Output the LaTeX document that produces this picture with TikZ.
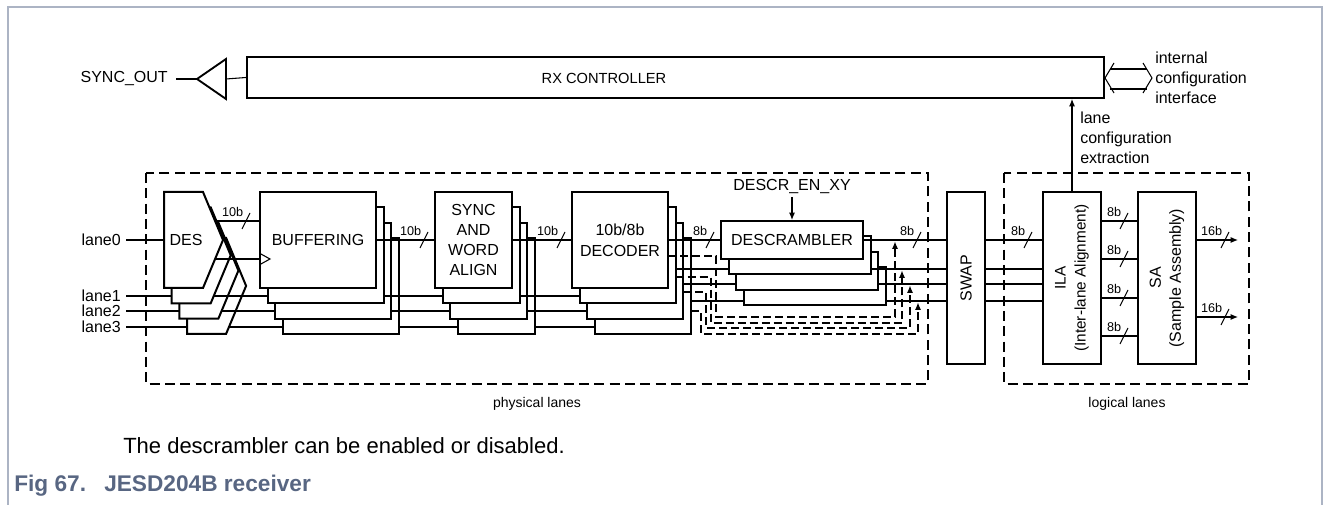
\documentclass[tikz,border=0pt]{standalone}
\usepackage{fontspec}
\setmainfont{Liberation Sans}
\usetikzlibrary{arrows.meta}
\definecolor{framecol}{RGB}{172,180,196}
\definecolor{capcol}{RGB}{88,102,130}
\newcommand\copystack[4]{%
  \foreach \k in {3,2,1}{\draw[blk] ({#1+7.7*\k},{#2+15.3*\k}) rectangle ({#3+7.7*\k},{#4+15.3*\k});}}
\newcommand\busmark[3]{%
  \draw[wire] ({#1-4},{#2+8}) -- ({#1+4},{#2-8});
  \node[sm,anchor=south east] at ({#1-2.5},{#2-4}) {#3};}
\begin{document}
\begin{tikzpicture}[x=0.75pt,y=-0.75pt,
  blk/.style={draw=black,line width=1.5pt,fill=white},
  wire/.style={draw=black,line width=0.8pt},
  dbox/.style={draw=black,line width=1.6pt,dash pattern=on 7.5pt off 4pt},
  byp/.style={draw=black,line width=0.8pt,dash pattern=on 6pt off 3pt},
  tip/.style={-{Latex[length=5.5pt,width=4.5pt]}},
  txt/.style={inner sep=0pt,font=\fontsize{12}{15}\selectfont,align=center},
  sm/.style={inner sep=0pt,font=\fontsize{9.5}{11}\selectfont},
  frm/.style={draw=framecol,line width=1.2pt}]
\useasboundingbox (0,0) rectangle (1326,505);
% frame
\draw[frm] (8,505) -- (8,7) -- (1322,7) -- (1322,505);
% dashed groups
\draw[dbox] (146,173) rectangle (928,384);
\draw[dbox] (1004,173) rectangle (1249,384);
\node[inner sep=0pt,font=\fontsize{10.5}{12}\selectfont] (phys) at (537,404) {physical lanes};
\node[inner sep=0pt,font=\fontsize{10.5}{12}\selectfont] (logi) at (1127,404) {logical lanes};

% controller
\node[blk,minimum width=857*0.75pt,minimum height=41*0.75pt] (ctrl) at (675.5,77.5) {};
\node[txt,font=\fontsize{11}{13}\selectfont] (ctrltxt) at (604,78) {RX CONTROLLER};
\draw[blk,line width=1.4pt] (197,79) -- (226,59) -- (226,99) -- cycle;
\coordinate (drvin) at (226,79);
\coordinate (drvout) at (197,79);
\node[txt,anchor=east] (syncout) at (168,79) {SYNC\_OUT};
\draw[wire] (ctrl.west) -- (drvin);
\draw[wire] (drvout) -- (176,79);
% internal configuration interface
\draw[wire] (1114,63) -- (1105,78) -- (1114,93);
\draw[wire] (1143,63) -- (1152,78) -- (1143,93);
\draw[wire] (1110,69) -- (1147,69);
\draw[wire] (1110,89) -- (1147,89);
\node[txt,anchor=west,align=left] (ici) at (1155,78) {internal\\configuration\\interface};

% DES stack
\foreach \k in {3,2,1}{\draw[blk] ({164+7.7*\k},{192+15.3*\k}) -- ++(39,0) -- ++(20,48) -- ++(-20,48) -- ++(-39,0) -- cycle;}
\draw[blk] (164,192) -- ++(39,0) -- ++(20,48) -- ++(-20,48) -- ++(-39,0) -- cycle;
\node[txt] (des) at (186,240) {DES};

% BUFFERING
\copystack{260}{192}{376}{288}
\node[blk,txt,minimum width=116*0.75pt,minimum height=96*0.75pt] (buf) at (318,240) {BUFFERING};
% SYNC
\copystack{435}{192}{512}{288}
\node[blk,txt,minimum width=77*0.75pt,minimum height=96*0.75pt] (sync) at (473.5,240) {SYNC\\AND\\WORD\\ALIGN};
% DECODER
\copystack{572}{192}{668}{288}
\node[blk,txt,minimum width=96*0.75pt,minimum height=96*0.75pt,font=\fontsize{12}{15.5}\selectfont] (dec) at (620,240) {10b/8b\\DECODER};
% DESCRAMBLER
\copystack{721}{221}{863}{259}
\node[blk,txt,minimum width=142*0.75pt,minimum height=38*0.75pt] (descr) at (792,240) {DESCRAMBLER};
% SWAP, ILA, SA
\node[blk,minimum width=38*0.75pt,minimum height=172*0.75pt] (swap) at (966,278) {};
\node[txt,rotate=90] at (swap.center) {SWAP};
\node[blk,minimum width=58*0.75pt,minimum height=172*0.75pt] (ila) at (1072,278) {};
\node[txt,rotate=90,font=\fontsize{11.5}{15}\selectfont] at (ila.center) {ILA\\(Inter-lane Alignment)};
\node[blk,minimum width=58*0.75pt,minimum height=172*0.75pt] (sa) at (1167,278) {};
\node[txt,rotate=90] at (sa.center) {SA\\(Sample Assembly)};

% lane 0 path
\node[txt,anchor=east] (l0) at (121,240) {lane0};
\draw[wire] (126,240) -- (164,240);
\draw[wire] (215.1,221) -- (buf.west |- 0,221);
\draw[wire] (215.1,259) -- (buf.west |- 0,259);
\draw[wire] (260,253.5) -- (270,259) -- (260,264.5);
\draw[wire] (buf.east) -- (sync.west);
\draw[wire] (sync.east) -- (dec.west);
\draw[wire] (dec.east) -- (descr.west);
\draw[wire] (descr.east) -- (swap.west |- 0,240);
\draw[wire] (swap.east |- 0,240) -- (ila.west |- 0,240);

% lanes 1..3
\node[txt,anchor=east] (l1) at (121,296) {lane1};
\node[txt,anchor=east] (l2) at (121,311) {lane2};
\node[txt,anchor=east] (l3) at (121,327) {lane3};
\foreach \k/\L/\O/\c in {1/296/269/213.7, 2/311/284/221.6, 3/327/301/229.0}{
  \draw[wire] (126,\L) -- ({164+7.7*\k},\L);
  \draw[wire] (\c,\L) -- ({260+7.7*\k},\L);
  \draw[wire] ({376+7.7*\k},\L) -- ({435+7.7*\k},\L);
  \draw[wire] ({512+7.7*\k},\L) -- ({572+7.7*\k},\L);
  \draw[wire] ({668+7.7*\k},\O) -- ({721+7.7*\k},\O);
  \draw[wire] ({863+7.7*\k},\O) -- (947,\O);
  \draw[wire] (985,\O) -- (1043,\O);
}
% ILA to SA
\foreach \y in {221,259,298,336}{
  \draw[wire] (ila.east |- 0,\y) -- (sa.west |- 0,\y);
  \busmark{1124}{\y}{8b}
}
% SA outputs
\draw[wire,tip] (sa.east |- 0,240) -- (1238,240);
\draw[wire,tip] (sa.east |- 0,317) -- (1238,317);
\busmark{1225}{240}{16b}
\busmark{1225}{317}{16b}

% bus widths
\busmark{246}{221}{10b}
\busmark{424}{240}{10b}
\busmark{561}{240}{10b}
\busmark{710}{240}{8b}
\busmark{917}{240}{8b}
\busmark{1028}{240}{8b}

% bypass paths
\draw[byp,tip] (668,256) -- (716,256) -- (716,317) -- (895,317) -- (895,241.5);
\draw[byp,tip] (675.7,277) -- (711,277) -- (711,323) -- (902,323) -- (902,270.5);
\draw[byp,tip] (683.4,292) -- (706,292) -- (706,328) -- (910,328) -- (910,285.5);
\draw[byp,tip] (691.1,311) -- (701,311) -- (701,334) -- (918,334) -- (918,302.5);

% descrambler enable
\node[txt] (den) at (792,187) {DESCR\_EN\_XY};
\draw[wire,tip] (descr.north |- 0,197) -- (descr.north);

% lane configuration extraction
\draw[wire,tip] (ila.north) -- (ctrl.south -| ila.north);
\node[txt,anchor=west,align=left] (lce) at (1080,138) {lane\\configuration\\extraction};

% captions
\node[anchor=west,inner sep=0pt,font=\fontsize{16.5}{19}\selectfont] (note) at (123,446) {The descrambler can be enabled or disabled.};
\node[anchor=base west,inner sep=0pt,font=\bfseries\fontsize{17}{20}\selectfont,text=capcol] (fig) at (14,491) {Fig 67.};
\node[anchor=base west,inner sep=0pt,font=\bfseries\fontsize{17}{20}\selectfont,text=capcol] (figt) at (104,491) {JESD204B receiver};
\end{tikzpicture}
\end{document}
